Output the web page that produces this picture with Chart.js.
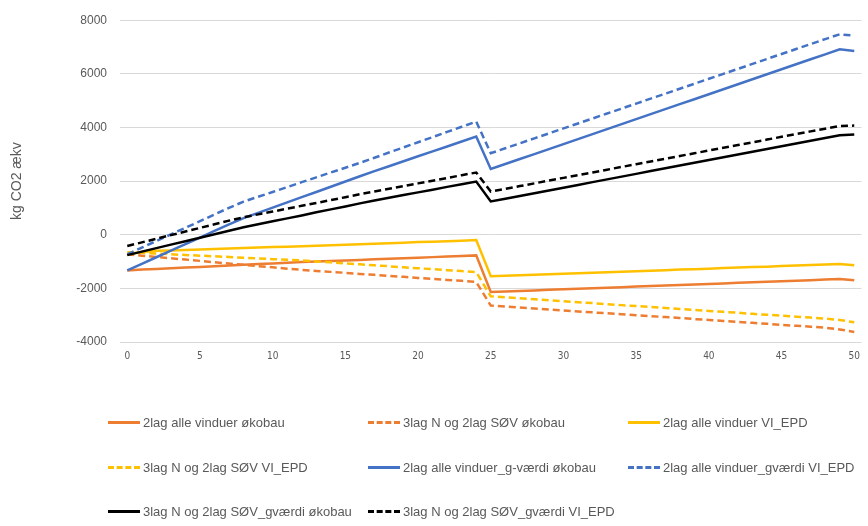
<!DOCTYPE html>
<html>
<head>
<meta charset="utf-8">
<script src="https://cdn.jsdelivr.net/npm/chart.js@4.4.0/dist/chart.umd.min.js"></script>
<style>
  html, body { margin: 0; padding: 0; background: #ffffff; }
  #wrap { position: relative; width: 868px; height: 526px; }
  #c { position: absolute; left: 0; top: 0; }
  #legend { position: absolute; left: 0; top: 0; width: 868px; height: 526px; pointer-events: none;
            font-family: "Liberation Sans", Arial, sans-serif; font-size: 13px; color: #595959; }
  .li { position: absolute; height: 16px; line-height: 16px; white-space: nowrap; }
  .sw { position: absolute; left: 0; top: 6px; width: 32px; height: 0; }
  .tx { position: absolute; left: 35px; top: 0; }
</style>
</head>
<body>
<div id="wrap">
  <canvas id="c" width="868" height="526"></canvas>
  <div id="legend"></div>
</div>
<script>
// ---- data ----
const years = [0,1,2,3,4,5,6,7,8,9,10,11,12,13,14,15,16,17,18,19,20,21,22,23,24,25,26,27,28,29,30,31,32,33,34,35,36,37,38,39,40,41,42,43,44,45,46,47,48,49,50];
const yTicks = [-4000, -2000, 0, 2000, 4000, 6000, 8000];
const seriesNames = [
  "2lag alle vinduer økobau",
  "3lag N og 2lag SØV økobau",
  "2lag alle vinduer VI_EPD",
  "3lag N og 2lag SØV VI_EPD",
  "2lag alle vinduer_g-værdi økobau",
  "2lag alle vinduer_gværdi VI_EPD",
  "3lag N og 2lag SØV_gværdi økobau",
  "3lag N og 2lag SØV_gværdi VI_EPD"
];
const okobau2lag = [-1330,-1300,-1275,-1250,-1225,-1200,-1175,-1150,-1120,-1095,-1070,-1045,-1020,-1000,-980,-960,-940,-915,-895,-875,-855,-835,-815,-790,-770,
  -2135,-2115,-2095,-2075,-2055,-2035,-2015,-1995,-1975,-1955,-1935,-1915,-1895,-1875,-1855,-1835,-1815,-1795,-1775,-1755,-1735,-1715,-1695,-1670,-1650,-1700];
const okobau3lag = [-730,-780,-830,-880,-925,-975,-1025,-1075,-1120,-1170,-1215,-1265,-1310,-1350,-1385,-1420,-1460,-1495,-1535,-1570,-1610,-1645,-1685,-1720,-1760,
  -2645,-2680,-2715,-2750,-2790,-2825,-2860,-2895,-2930,-2965,-3000,-3035,-3070,-3105,-3145,-3180,-3215,-3250,-3285,-3320,-3360,-3395,-3430,-3465,-3530,-3625];
const epd2lag = [-730,-640,-600,-585,-565,-550,-530,-515,-495,-480,-460,-445,-430,-410,-395,-375,-355,-335,-315,-295,-275,-260,-240,-220,-200,
  -1550,-1530,-1510,-1490,-1475,-1455,-1435,-1415,-1400,-1380,-1360,-1340,-1320,-1300,-1285,-1265,-1245,-1225,-1205,-1190,-1170,-1150,-1130,-1110,-1090,-1140];
const epd3lag = [-650,-675,-700,-730,-755,-780,-805,-830,-860,-885,-910,-935,-960,-995,-1030,-1070,-1105,-1140,-1175,-1215,-1250,-1285,-1320,-1355,-1390,
  -2300,-2335,-2370,-2410,-2445,-2480,-2515,-2550,-2590,-2625,-2660,-2695,-2730,-2770,-2805,-2840,-2875,-2910,-2950,-2985,-3020,-3055,-3090,-3130,-3180,-3265];
const gOkobau2lag = [-1330,-1085,-840,-595,-350,-105,140,390,620,815,1010,1205,1400,1595,1790,1985,2180,2370,2555,2740,2925,3110,3290,3475,3660,
  2450,2636,2822,3008,3194,3380,3566,3752,3938,4124,4310,4496,4682,4868,5054,5240,5426,5612,5798,5984,6170,6356,6542,6728,6915,6850];
const gEpd2lag = [-730,-480,-235,15,260,505,755,1005,1235,1415,1595,1775,1960,2140,2320,2500,2680,2870,3065,3255,3450,3640,3835,4025,4220,
  3040,3225,3410,3595,3780,3965,4150,4335,4520,4705,4890,5075,5260,5445,5630,5815,6000,6185,6370,6555,6740,6925,7110,7295,7475,7420];
const gOkobau3lag = [-760,-630,-500,-370,-240,-110,20,150,280,390,500,610,720,835,945,1055,1170,1280,1380,1480,1580,1680,1785,1885,1985,
  1240,1343,1446,1549,1652,1755,1858,1961,2064,2167,2270,2373,2476,2579,2682,2785,2888,2991,3094,3197,3300,3403,3506,3609,3712,3740];
const gEpd3lag = [-420,-285,-150,-15,120,255,390,525,650,760,865,970,1080,1185,1290,1400,1510,1615,1715,1815,1915,2015,2115,2220,2320,
  1610,1712,1814,1916,2018,2120,2222,2324,2426,2528,2630,2732,2834,2936,3038,3140,3242,3344,3446,3548,3650,3752,3854,3956,4058,4070];

const allSeries = [okobau2lag, okobau3lag, epd2lag, epd3lag, gOkobau2lag, gEpd2lag, gOkobau3lag, gEpd3lag];
const colors = ["#ED7D31", "#ED7D31", "#FFC000", "#FFC000", "#4472C4", "#4472C4", "#000000", "#000000"];
const dashed = [false, true, false, true, false, true, false, true];

const datasets = allSeries.map((d, i) => ({
  label: seriesNames[i],
  data: d,
  borderColor: colors[i],
  backgroundColor: colors[i],
  borderWidth: 2.5,
  borderDash: dashed[i] ? [7, 4] : [],
  pointRadius: 0,
  tension: 0,
  fill: false,
  order: 8 - i
}));

const chart = new Chart(document.getElementById('c'), {
  type: 'line',
  data: { labels: years, datasets: datasets },
  options: {
    responsive: false,
    animation: false,
    devicePixelRatio: 1,
    layout: { padding: { top: 20, right: 2, left: 0, bottom: 154 } },
    plugins: { legend: { display: false }, tooltip: { enabled: false } },
    scales: {
      x: {
        type: 'category',
        offset: true,
        grid: { display: false, drawTicks: false },
        border: { display: false },
        ticks: {
          autoSkip: false,
          maxRotation: 0,
          padding: 8,
          color: '#595959',
          font: { family: '"Liberation Sans Narrow", "DejaVu Sans Condensed", sans-serif', size: 10 },
          callback: function(v, i) { return (years[i] % 5 === 0) ? String(years[i]) : ''; }
        },
        afterFit: s => { s.height = 30; }
      },
      y: {
        min: -4000, max: 8000,
        afterBuildTicks: s => { s.ticks = yTicks.map(v => ({ value: v })); },
        grid: { color: '#D9D9D9', lineWidth: 1, drawTicks: false },
        border: { display: false },
        ticks: {
          padding: 13,
          color: '#595959',
          font: { family: '"Liberation Sans", Arial, sans-serif', size: 12 },
          callback: v => String(v)
        },
        title: {
          display: true,
          text: 'kg CO2 ækv',
          color: '#595959',
          padding: { top: 9, bottom: 0 },
          font: { family: '"Liberation Sans", Arial, sans-serif', size: 14 }
        },
        afterFit: s => { s.width = 120; }
      }
    }
  }
});

// ---- HTML legend built from the datasets ----
const legend = document.getElementById('legend');
const colX = [108, 368, 628];
const rowY = [415, 460, 504];
chart.data.datasets.forEach((ds, i) => {
  const item = document.createElement('div');
  item.className = 'li';
  item.style.left = colX[i % 3] + 'px';
  item.style.top = rowY[Math.floor(i / 3)] + 'px';
  const sw = document.createElement('div');
  sw.className = 'sw';
  sw.style.borderTop = '3px ' + (dashed[i] ? 'dashed ' : 'solid ') + ds.borderColor;
  const tx = document.createElement('span');
  tx.className = 'tx';
  tx.textContent = ds.label;
  item.appendChild(sw);
  item.appendChild(tx);
  legend.appendChild(item);
});
</script>
</body>
</html>
